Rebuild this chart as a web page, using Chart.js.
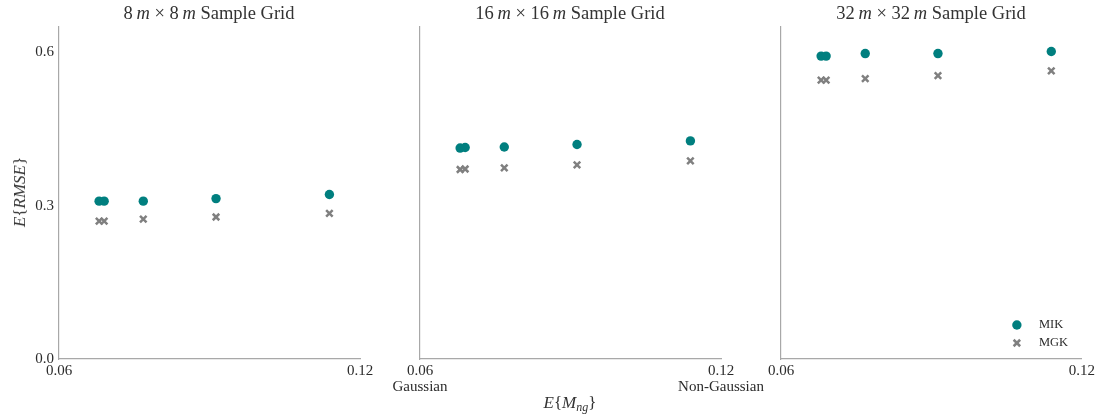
<!DOCTYPE html>
<html>
<head>
<meta charset="utf-8">
<script src="https://cdn.jsdelivr.net/npm/chart.js@4.4.1/dist/chart.umd.min.js"></script>
<style>
  body { margin: 0; background: #fff; }
  #wrap { position: relative; width: 1099px; height: 420px; font-family: "Liberation Serif", serif; color: #333; }
  #wrap canvas { position: absolute; left: 0; top: 0; }
  .ttl { position: absolute; top: 3px; font-size: 18.5px; line-height: 20px; transform: translateX(-50%); white-space: nowrap; }
  .ytl { position: absolute; left: 20px; top: 192px; font-size: 17px; white-space: nowrap; transform: translate(-50%, -50%) rotate(-90deg); }
  .xtl { position: absolute; left: 570px; top: 404px; font-size: 17px; white-space: nowrap; transform: translate(-50%, -50%); }
  sub { font-size: 12px; vertical-align: -3px; }
</style>
</head>
<body>
<div id="wrap">
  <canvas id="c8" width="1099" height="420"></canvas>
  <canvas id="c16" width="1099" height="420"></canvas>
  <canvas id="c32" width="1099" height="420"></canvas>
  <div class="ttl" style="left:209px">8&#8201;<i>m</i> × 8&#8201;<i>m</i> Sample Grid</div>
  <div class="ttl" style="left:570px">16&#8201;<i>m</i> × 16&#8201;<i>m</i> Sample Grid</div>
  <div class="ttl" style="left:931px">32&#8201;<i>m</i> × 32&#8201;<i>m</i> Sample Grid</div>
  <div class="ytl"><i>E</i>{<i>RMSE</i>}</div>
  <div class="xtl"><i>E</i>{<i>M</i><sub><i>ng</i></sub>}</div>
</div>
<script>
// expected non-gaussianity of each simulated field (same for every grid)
const mng = [0.068, 0.069, 0.0768, 0.0913, 0.1139];

// expected RMSE per grid spacing
const mik8 = [0.309, 0.309, 0.309, 0.314, 0.322];
const mgk8 = [0.270, 0.270, 0.274, 0.278, 0.285];
const mik16 = [0.413, 0.414, 0.415, 0.420, 0.427];
const mgk16 = [0.371, 0.372, 0.374, 0.380, 0.388];
const mik32 = [0.593, 0.593, 0.598, 0.598, 0.602];
const mgk32 = [0.546, 0.546, 0.549, 0.555, 0.564];

const seriesNames = ["MIK", "MGK"];
const xTicks = [0.06, 0.12];
const yTicks = [0.0, 0.3, 0.6];
const xTickNotes = ["Gaussian", "Non-Gaussian"];

const W = 1099, H = 420;
const TOP = 27, BOTTOM = 359, AXIS_W = 59;
const TEAL = "#007f7f", GREY = "#808080", AXIS = "#a8a8a8", INK = "#2b2b2b";
const tickFont = { family: "Liberation Serif", size: 15, lineHeight: 1.07 };

const panels = [
  { id: "c8", left: 59, right: 360, mik: mik8, mgk: mgk8, yLabels: true },
  { id: "c16", left: 420, right: 721, mik: mik16, mgk: mgk16, notes: true },
  { id: "c32", left: 781, right: 1082, mik: mik32, mgk: mgk32, legend: true },
];

function points(ys) {
  return mng.map((x, i) => ({ x: x, y: ys[i] }));
}

// small legend in the lower right corner of the plot area
const cornerLegend = {
  id: "cornerLegend",
  afterDraw(chart) {
    var ctx = chart.ctx;
    var a = chart.chartArea;
    var x = a.right - 65;
    chart.data.datasets.forEach((ds, i) => {
      var y = a.bottom - 34 + i * 18;
      ctx.save();
      ctx.fillStyle = ds.backgroundColor;
      ctx.strokeStyle = ds.borderColor;
      ctx.lineWidth = ds.borderWidth;
      Chart.helpers.drawPoint(ctx, {
        pointStyle: ds.pointStyle,
        radius: ds.pointRadius,
        borderWidth: ds.borderWidth,
        rotation: 0,
      }, x, y);
      ctx.fillStyle = INK;
      ctx.font = "12.5px 'Liberation Serif'";
      ctx.textBaseline = "middle";
      ctx.fillText(ds.label, x + 22, y);
      ctx.restore();
    });
  },
};

panels.forEach((p) => {
  var ctx = document.getElementById(p.id).getContext("2d");
  new Chart(ctx, {
    type: "scatter",
    data: {
      datasets: [
        {
          label: seriesNames[0],
          data: points(p.mik),
          pointStyle: "circle",
          pointRadius: 4.7,
          backgroundColor: TEAL,
          borderColor: TEAL,
          borderWidth: 0,
        },
        {
          label: seriesNames[1],
          data: points(p.mgk),
          pointStyle: "crossRot",
          pointRadius: 4.6,
          backgroundColor: GREY,
          borderColor: GREY,
          borderWidth: 2.5,
        },
      ],
    },
    options: {
      responsive: false,
      animation: false,
      events: [],
      layout: {
        padding: { left: p.left - AXIS_W, right: W - p.right, top: TOP, bottom: 0 },
      },
      plugins: { legend: { display: false }, tooltip: { enabled: false } },
      scales: {
        x: {
          type: "linear",
          min: 0.06,
          max: 0.12,
          grid: { display: false, drawTicks: false },
          border: { color: AXIS, width: 1.2 },
          afterBuildTicks: (s) => { s.ticks = xTicks.map((v) => ({ value: v })); },
          afterFit: (s) => { s.height = H - BOTTOM; },
          ticks: {
            padding: 4,
            maxRotation: 0,
            autoSkip: false,
            color: INK,
            font: tickFont,
            callback: (v, i) => (p.notes ? [v.toFixed(2), xTickNotes[i]] : v.toFixed(2)),
          },
        },
        y: {
          type: "linear",
          min: 0,
          max: 0.65,
          grid: { display: false, drawTicks: false },
          border: { color: AXIS, width: 1.2 },
          afterBuildTicks: (s) => { s.ticks = yTicks.map((v) => ({ value: v })); },
          afterFit: (s) => { s.width = AXIS_W; },
          ticks: {
            display: !!p.yLabels,
            padding: 5,
            color: INK,
            font: tickFont,
            callback: (v) => v.toFixed(1),
          },
        },
      },
    },
    plugins: p.legend ? [cornerLegend] : [],
  });
});
</script>
</body>
</html>
